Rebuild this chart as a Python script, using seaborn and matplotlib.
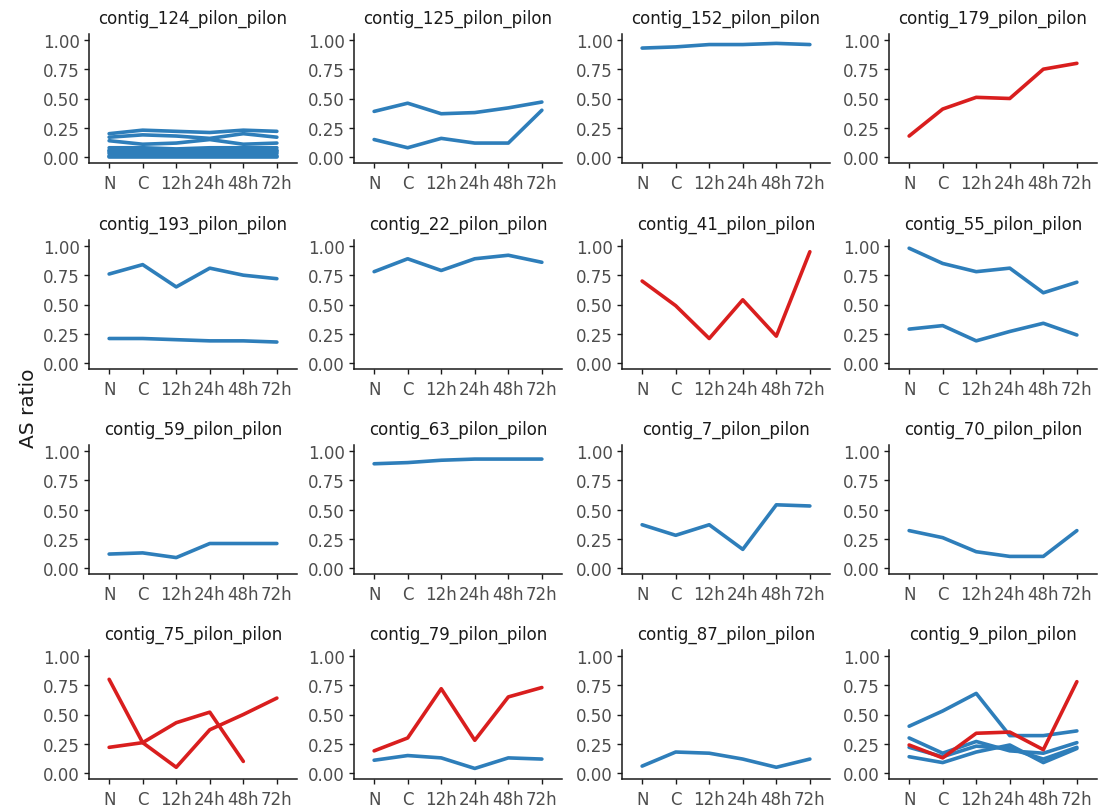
import numpy as np
import pandas as pd
import matplotlib
matplotlib.use("Agg")
import matplotlib.pyplot as plt
import seaborn as sns

nan = np.nan
times = ["N", "C", "12h", "24h", "48h", "72h"]
contigs = ["contig_124_pilon_pilon", "contig_125_pilon_pilon", "contig_152_pilon_pilon", "contig_179_pilon_pilon",
           "contig_193_pilon_pilon", "contig_22_pilon_pilon", "contig_41_pilon_pilon", "contig_55_pilon_pilon",
           "contig_59_pilon_pilon", "contig_63_pilon_pilon", "contig_7_pilon_pilon", "contig_70_pilon_pilon",
           "contig_75_pilon_pilon", "contig_79_pilon_pilon", "contig_87_pilon_pilon", "contig_9_pilon_pilon"]

# each entry: (trend group, values over times)
c124 = [("blue", [0.20, 0.23, 0.22, 0.21, 0.23, 0.22]),
        ("blue", [0.17, 0.19, 0.18, 0.16, 0.20, 0.17]),
        ("blue", [0.14, 0.11, 0.12, 0.15, 0.11, 0.12]),
        ("blue", [0.08, 0.08, 0.07, 0.08, 0.08, 0.08]),
        ("blue", [0.06, 0.07, 0.06, 0.06, 0.07, 0.06]),
        ("blue", [0.05, 0.05, 0.05, 0.05, 0.05, 0.05]),
        ("blue", [0.04, 0.04, 0.04, 0.03, 0.04, 0.04]),
        ("blue", [0.03, 0.02, 0.02, 0.02, 0.02, 0.03]),
        ("blue", [0.01, 0.01, 0.01, 0.01, 0.01, 0.01]),
        ("blue", [0.00, 0.00, 0.00, 0.00, 0.00, 0.00])]
c125 = [("blue", [0.39, 0.46, 0.37, 0.38, 0.42, 0.47]),
        ("blue", [0.15, 0.08, 0.16, 0.12, 0.12, 0.40])]
c152 = [("blue", [0.93, 0.94, 0.96, 0.96, 0.97, 0.96])]
c179 = [("red", [0.18, 0.41, 0.51, 0.50, 0.75, 0.80])]
c193 = [("blue", [0.76, 0.84, 0.65, 0.81, 0.75, 0.72]),
        ("blue", [0.21, 0.21, 0.20, 0.19, 0.19, 0.18])]
c22 = [("blue", [0.78, 0.89, 0.79, 0.89, 0.92, 0.86])]
c41 = [("red", [0.70, 0.49, 0.21, 0.54, 0.23, 0.95])]
c55 = [("blue", [0.98, 0.85, 0.78, 0.81, 0.60, 0.69]),
       ("blue", [0.29, 0.32, 0.19, 0.27, 0.34, 0.24])]
c59 = [("blue", [0.12, 0.13, 0.09, 0.21, 0.21, 0.21])]
c63 = [("blue", [0.89, 0.90, 0.92, 0.93, 0.93, 0.93])]
c7 = [("blue", [0.37, 0.28, 0.37, 0.16, 0.54, 0.53])]
c70 = [("blue", [0.32, 0.26, 0.14, 0.10, 0.10, 0.32])]
c75 = [("red", [0.80, 0.26, 0.05, 0.37, 0.50, 0.64]),
       ("red", [0.22, 0.26, 0.43, 0.52, 0.10, nan])]
c79 = [("red", [0.19, 0.30, 0.72, 0.28, 0.65, 0.73]),
       ("blue", [0.11, 0.15, 0.13, 0.04, 0.13, 0.12])]
c87 = [("blue", [0.06, 0.18, 0.17, 0.12, 0.05, 0.12])]
c9 = [("blue", [0.40, 0.53, 0.68, 0.32, 0.32, 0.36]),
      ("blue", [0.30, 0.17, 0.27, 0.19, 0.17, 0.26]),
      ("blue", [0.22, 0.14, 0.23, 0.21, 0.12, 0.22]),
      ("blue", [0.14, 0.09, 0.18, 0.24, 0.09, 0.21]),
      ("red", [0.24, 0.13, 0.34, 0.35, 0.20, 0.78])]

panel_lines = [c124, c125, c152, c179, c193, c22, c41, c55, c59, c63, c7, c70, c75, c79, c87, c9]

rows = []
for name, lines in zip(contigs, panel_lines):
    for li, (grp, vals) in enumerate(lines):
        for ti, v in enumerate(vals):
            rows.append({"contig": name, "line": li, "group": grp, "time": ti, "ratio": v})
df = pd.DataFrame(rows)

sns.set_theme(style="ticks")
plt.rcParams["font.family"] = ["DejaVu Sans"]

palette = {"blue": "#2E7EBA", "red": "#D91E1E"}

W, H = 1101, 812
fig = plt.figure(figsize=(W / 100, H / 100), dpi=100)
col_left = [89, 354, 622, 889]
row_top = [35, 241, 446, 651]
pw, ph = 208, 129

for i, name in enumerate(contigs):
    r, c = divmod(i, 4)
    ax = fig.add_axes([col_left[c] / W, (H - row_top[r] - ph) / H, pw / W, ph / H])
    sub = df[df["contig"] == name]
    sns.lineplot(data=sub, x="time", y="ratio", hue="group", units="line", estimator=None,
                 palette=palette, legend=False, linewidth=2.6, sort=False, ax=ax)
    ax.set_xlim(-0.6, 5.6)
    ax.set_ylim(-0.05, 1.05)
    ax.set_xticks(range(len(times)))
    ax.set_xticklabels(times)
    ax.set_yticks([0, 0.25, 0.5, 0.75, 1.0])
    ax.set_yticklabels(["0.00", "0.25", "0.50", "0.75", "1.00"])
    ax.tick_params(axis="both", labelsize=12, colors="#1a1a1a", labelcolor="#4D4D4D",
                   length=3.5, width=1.0, pad=3)
    ax.tick_params(axis="x", pad=4.5)
    ax.set_xlabel("")
    ax.set_ylabel("")
    for s in ["top", "right"]:
        ax.spines[s].set_visible(False)
    for s in ["left", "bottom"]:
        ax.spines[s].set_linewidth(1.1)
        ax.spines[s].set_color("#1a1a1a")
    ax.set_title(name, fontsize=12, color="#1a1a1a", pad=8)

fig.text(28 / W, 1 - 408 / H, "AS ratio", rotation=90, ha="center", va="center",
         fontsize=14.5, color="#1a1a1a")

fig.savefig("out.png", dpi=100, facecolor="white")
